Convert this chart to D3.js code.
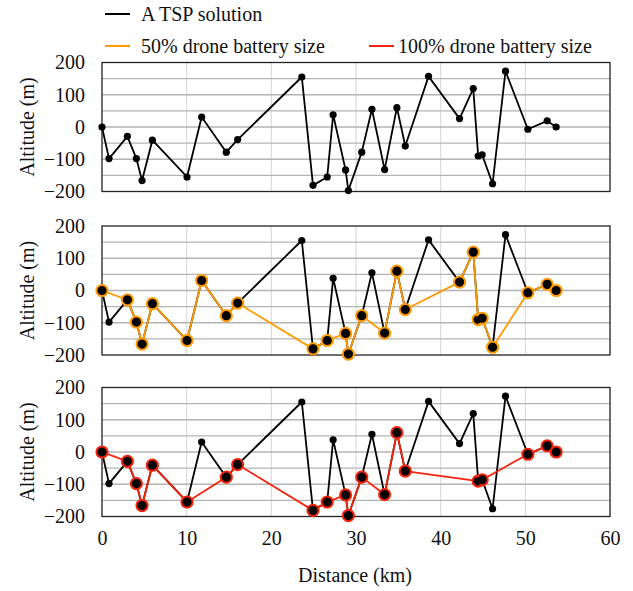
<!DOCTYPE html>
<html>
<head>
<meta charset="utf-8">
<script src="https://cdn.jsdelivr.net/npm/d3@7"></script>
<style>
  html, body { margin: 0; padding: 0; background: #fff; }
  svg { display: block; }
</style>
</head>
<body>
<svg id="chart" width="633" height="591"></svg>
<script>
// Route: cumulative distance (km) and altitude (m) of each stop on the TSP tour
const distance = [0, 0.83, 3.0, 4.06, 4.73, 5.95, 10.04, 11.77, 14.68, 16.02,
  23.6, 24.92, 26.6, 27.3, 28.77, 29.1, 30.68, 31.88, 33.38, 34.83,
  35.82, 38.57, 42.23, 43.85, 44.43, 44.9, 46.13, 47.66, 50.3, 52.58, 53.64];
const altitude = [0, -98, -29, -98, -166, -41, -155, 31, -78, -39,
  155, -181, -155, 38, -133, -197, -78, 55, -132, 60,
  -59, 157, 26, 119, -90, -86, -176, 173, -7, 19, 0];

// Stops (indices into the route) that the drone visits for each battery size
const visits50 = [0, 2, 3, 4, 5, 6, 7, 8, 9, 11, 12, 14, 15, 16, 18, 19, 20,
  22, 23, 24, 25, 26, 28, 29, 30];
const visits100 = [0, 2, 3, 4, 5, 6, 8, 9, 11, 12, 14, 15, 16, 18, 19, 20,
  24, 25, 28, 29, 30];

const xTicks = [0, 10, 20, 30, 40, 50, 60];
const yTicks = [200, 100, 0, -100, -200];
const yGrid = [150, 100, 50, 0, -50, -100, -150];

const seriesNames = ["A TSP solution", "50% drone battery size", "100% drone battery size"];
const colTSP = "#000000", col50 = "#ff9a00", col100 = "#f5230c";

const FONT = "'Liberation Serif', 'Times New Roman', serif";
const FS = 20;
const svg = d3.select("#chart");
const x = d3.scaleLinear().domain([0, 60]).range([102, 610]);

// every label gets the serif face inline
function serif(sel, size) {
  return sel.attr("font-family", FONT).attr("font-size", size)
    .style("font-family", FONT, "important").style("font-size", size + "px")
    .attr("fill", "#111");
}

const panels = [
  { top: 62.5, subset: null, color: null },
  { top: 226, subset: visits50, color: col50 },
  { top: 387.5, subset: visits100, color: col100 }
];
const panelH = 129;

const pts = distance.map((d, i) => ({ d, a: altitude[i] }));

panels.forEach(p => {
  const y = d3.scaleLinear().domain([-200, 200]).range([p.top + panelH, p.top]);
  const g = svg.append("g");

  // vertical grid
  g.selectAll("line.vg").data(xTicks.filter(t => t > 0 && t < 60)).join("line")
    .attr("x1", d => x(d)).attr("x2", d => x(d))
    .attr("y1", y(200)).attr("y2", y(-200))
    .attr("stroke", "#dcdcdc").attr("stroke-width", 1.2);
  // horizontal grid
  g.selectAll("line.hg").data(yGrid).join("line")
    .attr("x1", x(0)).attr("x2", x(60))
    .attr("y1", d => y(d)).attr("y2", d => y(d))
    .attr("stroke", "#b4b4b4").attr("stroke-width", 1.3);

  // frame
  g.append("rect")
    .attr("x", x(0)).attr("y", y(200))
    .attr("width", x(60) - x(0)).attr("height", y(-200) - y(200))
    .attr("fill", "none").attr("stroke", "#222").attr("stroke-width", 1.3);

  // y axis labels
  const yAxis = d3.axisLeft(y).tickValues(yTicks).tickSize(0).tickPadding(17)
    .tickFormat(d3.format("d"));
  const ya = g.append("g").attr("transform", `translate(${x(0)},0)`).call(yAxis);
  ya.select(".domain").remove();
  serif(ya.selectAll("text"), FS);

  serif(g.append("text")
    .attr("transform", `translate(34,${p.top + panelH / 2}) rotate(-90)`)
    .attr("text-anchor", "middle"), FS)
    .text("Altitude (m)");

  const line = d3.line().x(d => x(d.d)).y(d => y(d.a));

  // TSP tour
  g.append("path").datum(pts).attr("d", line)
    .attr("fill", "none").attr("stroke", colTSP).attr("stroke-width", 1.8)
    .attr("stroke-linejoin", "round");

  // drone route
  if (p.subset) {
    const sub = p.subset.map(i => pts[i]);
    g.append("path").datum(sub).attr("d", line)
      .attr("fill", "none").attr("stroke", p.color).attr("stroke-width", 1.8)
      .attr("stroke-linejoin", "round");
    g.selectAll("circle.ring").data(sub).join("circle")
      .attr("cx", d => x(d.d)).attr("cy", d => y(d.a)).attr("r", 5.6)
      .attr("fill", "#000").attr("stroke", p.color).attr("stroke-width", 2);
  }

  g.selectAll("circle.dot").data(pts).join("circle")
    .attr("cx", d => x(d.d)).attr("cy", d => y(d.a)).attr("r", 3.6)
    .attr("fill", colTSP);
});

// x axis on bottom panel
const xAxis = d3.axisBottom(x).tickValues(xTicks).tickSize(0).tickPadding(14);
const xa = svg.append("g").attr("transform", `translate(0,${panels[2].top + panelH})`).call(xAxis);
xa.select(".domain").remove();
serif(xa.selectAll("text"), FS);

serif(svg.append("text").attr("x", 355).attr("y", 582)
  .attr("text-anchor", "middle"), FS).text("Distance (km)");

// legend
const legend = [
  { name: seriesNames[0], color: colTSP, x: 105, y: 14 },
  { name: seriesNames[1], color: col50, x: 105, y: 46 },
  { name: seriesNames[2], color: col100, x: 369, y: 46 }
];
const lg = svg.append("g");
legend.forEach((l, i) => {
  lg.append("line").attr("x1", l.x).attr("x2", l.x + 25)
    .attr("y1", l.y).attr("y2", l.y)
    .attr("stroke", l.color).attr("stroke-width", 2);
  serif(lg.append("text").attr("x", l.x + (i === 2 ? 29 : 36)).attr("y", l.y + 7), FS)
    .text(l.name);
});
</script>
</body>
</html>
